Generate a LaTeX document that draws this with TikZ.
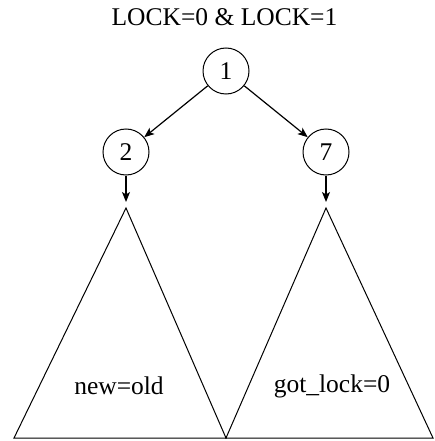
\documentclass[tikz,border=0pt]{standalone}
\usepackage{fontspec}
\setmainfont{Liberation Serif}
\usetikzlibrary{arrows.meta}
\begin{document}
\begin{tikzpicture}[x=1pt,y=-1pt,
  every node/.style={font=\fontsize{25.5}{30}\selectfont},
  vertex/.style={circle,draw,line width=1pt,minimum size=46pt,inner sep=0pt},
  edge/.style={line width=1.2pt,-{Stealth[length=10pt,width=8pt,inset=2.5pt]}},
  subtree/.style={draw,line width=1pt,line join=miter}]
  \useasboundingbox (0,0) rectangle (434,441);
  % header
  \node[anchor=base] (title) at (224.5,26) {LOCK=0 \& LOCK=1};
  % tree nodes
  \node[vertex] (n1) at (226,71) {1};
  \node[vertex] (n2) at (126,152) {2};
  \node[vertex] (n7) at (326,152) {7};
  % subtree apexes and base corners
  \coordinate (a2) at (126,208);
  \coordinate (a7) at (326,208);
  \coordinate (t2) at (126,202);
  \coordinate (t7) at (326,202);
  \coordinate (bl) at (14,438);
  \coordinate (bm) at (226,438);
  \coordinate (br) at (433,438);
  % edges
  \draw[edge] (n1) -- (n2);
  \draw[edge] (n1) -- (n7);
  \draw[edge] (n2) -- (t2);
  \draw[edge] (n7) -- (t7);
  % subtrees
  \draw[subtree] (a2) -- (bl) -- (bm) -- cycle;
  \draw[subtree] (a7) -- (bm) -- (br) -- cycle;
  \node[anchor=base] (lbl2) at (119,394) {new=old};
  \node[anchor=base] (lbl7) at (332,392) {got\_lock=0};
\end{tikzpicture}
\end{document}
